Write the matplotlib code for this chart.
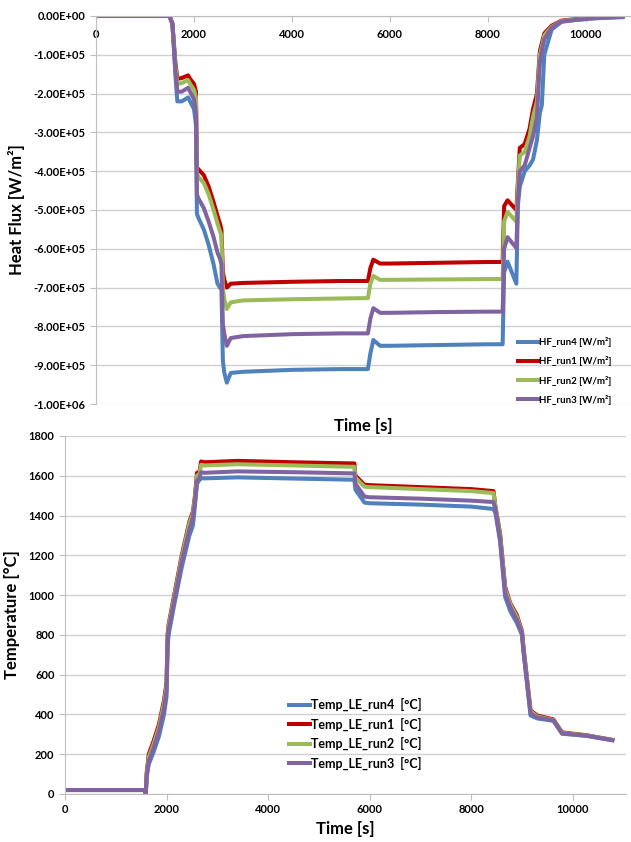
import numpy as np
import matplotlib
matplotlib.use("Agg")
import matplotlib.pyplot as plt
from matplotlib.ticker import FuncFormatter

# =========================
# DATA - heat flux (units of 1e5 W/m2)
# =========================
t_hf = [0, 1500, 1560, 1620, 1660, 1750, 1880, 1920, 2000, 2040, 2060, 2090, 2200, 2300,
        2400, 2480, 2530, 2560, 2590, 2620, 2670, 2750, 3000, 4000, 5000, 5550, 5600, 5660,
        5800, 6000, 7000, 8000, 8300, 8330, 8400, 8580, 8610, 8650, 8750, 8850, 8920, 9000,
        9060, 9100, 9150, 9300, 9500, 9800, 10200, 10750]

hf_run1 = [0, 0, -0.2, -1.2, -1.62, -1.6, -1.53, -1.62, -1.75, -1.95, -3.9, -3.95, -4.1, -4.4,
           -4.8, -5.15, -5.35, -5.5, -6.6, -6.8, -7.0, -6.9, -6.88, -6.85, -6.83, -6.83, -6.5, -6.28,
           -6.38, -6.38, -6.36, -6.34, -6.34, -4.9, -4.75, -5.0, -4.3, -3.4, -3.3, -2.9, -2.4, -2.0,
           -0.9, -0.7, -0.45, -0.25, -0.12, -0.08, -0.04, 0.0]
hf_run2 = [0, 0, -0.2, -1.3, -1.75, -1.73, -1.65, -1.75, -1.9, -2.1, -4.05, -4.15, -4.3, -4.6,
           -5.0, -5.35, -5.55, -5.65, -7.0, -7.3, -7.55, -7.38, -7.33, -7.3, -7.28, -7.27, -6.9, -6.7,
           -6.8, -6.8, -6.79, -6.78, -6.78, -5.3, -5.05, -5.3, -4.4, -3.6, -3.5, -3.1, -2.6, -2.2,
           -1.0, -0.8, -0.5, -0.28, -0.13, -0.09, -0.05, -0.01]
hf_run3 = [0, 0, -0.2, -1.4, -1.95, -1.95, -1.85, -1.95, -2.15, -2.5, -4.6, -4.7, -4.95, -5.3,
           -5.7, -6.1, -6.25, -6.4, -7.95, -8.2, -8.5, -8.3, -8.25, -8.2, -8.18, -8.18, -7.8, -7.53,
           -7.65, -7.65, -7.63, -7.62, -7.62, -6.0, -5.7, -5.98, -4.8, -4.0, -3.85, -3.4, -3.1, -2.6,
           -1.2, -0.9, -0.6, -0.3, -0.14, -0.1, -0.05, -0.02]
hf_run4 = [0, 0, -0.2, -1.5, -2.2, -2.2, -2.1, -2.2, -2.4, -2.8, -5.1, -5.2, -5.5, -5.9,
           -6.4, -6.9, -7.0, -7.05, -8.9, -9.2, -9.45, -9.2, -9.17, -9.12, -9.1, -9.1, -8.7, -8.35,
           -8.5, -8.5, -8.48, -8.46, -8.46, -6.6, -6.33, -6.9, -4.9, -4.4, -4.0, -3.85, -3.7, -3.2,
           -2.5, -2.3, -1.0, -0.35, -0.15, -0.1, -0.06, -0.03]

# =========================
# DATA - leading edge temperature (deg C)
# =========================
t_temp = [0, 1570, 1590, 1610, 1650, 1750, 1850, 1950, 2000, 2020, 2040, 2150, 2300, 2450,
          2520, 2560, 2600, 2650, 2680, 2750, 3400, 4500, 5700, 5720, 5900, 6000, 7000, 8000,
          8440, 8480, 8570, 8670, 8770, 8900, 9000, 9030, 9170, 9300, 9620, 9790, 10280, 10780]

temp_run1 = [20, 20, 0, 110, 200, 270, 350, 470, 560, 800, 850, 1000, 1200, 1370, 1420, 1500,
             1615, 1620, 1672, 1668, 1675, 1668, 1662, 1600, 1555, 1553, 1543, 1533, 1523, 1440,
             1310, 1040, 960, 900, 820, 740, 420, 395, 375, 310, 295, 272]
temp_run2 = [20, 20, 0, 100, 185, 255, 335, 455, 545, 790, 840, 990, 1190, 1360, 1410, 1490,
             1600, 1610, 1655, 1652, 1658, 1652, 1645, 1590, 1545, 1543, 1533, 1523, 1513, 1440,
             1300, 1030, 955, 890, 815, 735, 415, 390, 372, 308, 294, 272]
temp_run3 = [20, 20, 0, 95, 165, 235, 315, 430, 520, 760, 820, 970, 1170, 1330, 1390, 1470,
             1575, 1590, 1618, 1615, 1622, 1618, 1612, 1560, 1495, 1492, 1485, 1475, 1468, 1430,
             1280, 1010, 940, 875, 810, 725, 405, 385, 370, 305, 293, 271]
temp_run4 = [20, 20, 0, 85, 150, 215, 290, 400, 490, 730, 800, 950, 1140, 1300, 1350, 1450,
             1560, 1580, 1588, 1587, 1592, 1586, 1580, 1530, 1465, 1462, 1455, 1445, 1433, 1410,
             1270, 990, 920, 860, 800, 715, 395, 380, 368, 303, 292, 270]

colors = {"run4": "#4F81BD", "run1": "#C00000", "run2": "#9BBB59", "run3": "#8064A2"}

plt.rcParams["font.family"] = ["Lato", "DejaVu Sans"]
plt.rcParams["font.weight"] = "bold"

fig = plt.figure(figsize=(6.31, 8.42), dpi=100)
grey = "#BFBFBF"
lw = 2.9

# =========================
# 1. HEAT FLUX
# =========================
ax1 = fig.add_axes([96 / 631, 1 - 404 / 842, 535 / 631, 388 / 842])
hf_series = [("run4", hf_run4), ("run1", hf_run1), ("run2", hf_run2), ("run3", hf_run3)]
for name, vals in hf_series:
    ax1.plot(t_hf, np.array(vals) * 1e5, color=colors[name], lw=lw,
             label="HF_%s [W/m²]" % name, solid_joinstyle="round")

ax1.set_xlim(0, 10920)
ax1.set_ylim(-1e6, 0)
ax1.set_xticks([0, 2000, 4000, 6000, 8000, 10000])
ax1.set_yticks(np.arange(-1e6, 1, 1e5))
ax1.yaxis.set_major_formatter(FuncFormatter(lambda v, p: "%.2E" % v))
ax1.spines["bottom"].set_position(("data", 0))
ax1.spines["bottom"].set_color(grey)
ax1.spines["left"].set_color(grey)
ax1.spines["top"].set_visible(False)
ax1.spines["right"].set_visible(False)
ax1.grid(axis="y", color="#D0D0D0", lw=1)
ax1.set_axisbelow(True)
ax1.tick_params(axis="both", labelsize=8, color=grey, length=4)
ax1.tick_params(axis="x", pad=5)
ax1.set_ylabel("Heat Flux [W/m²]", fontsize=12, fontweight="bold", labelpad=6)
ax1.set_xlabel("Time [s]", fontsize=12, fontweight="bold")
ax1.xaxis.set_label_coords(0.5, -0.035)
ax1.legend(loc="upper left", bbox_to_anchor=(0.78, 0.185), frameon=False,
           prop={"size": 7, "weight": "bold"}, handlelength=2.0, handletextpad=0.1,
           labelspacing=0.95, borderpad=0)

# =========================
# 2. TEMPERATURE
# =========================
ax2 = fig.add_axes([65 / 631, 1 - 794 / 842, 561 / 631, 358 / 842])
temp_series = [("run4", temp_run4), ("run1", temp_run1), ("run2", temp_run2), ("run3", temp_run3)]
for name, vals in temp_series:
    ax2.plot(t_temp, vals, color=colors[name], lw=lw,
             label="Temp_LE_%s  [°C]" % name, solid_joinstyle="round")

ax2.set_xlim(0, 11050)
ax2.set_ylim(0, 1800)
ax2.set_xticks([0, 2000, 4000, 6000, 8000, 10000])
ax2.set_yticks(np.arange(0, 1801, 200))
ax2.spines["bottom"].set_color(grey)
ax2.spines["left"].set_color(grey)
ax2.spines["top"].set_visible(False)
ax2.spines["right"].set_visible(False)
ax2.grid(axis="y", color="#D0D0D0", lw=1)
ax2.set_axisbelow(True)
ax2.tick_params(axis="both", labelsize=8, color=grey, length=4)
ax2.set_ylabel("Temperature [°C]", fontsize=12, fontweight="bold", labelpad=6)
ax2.set_xlabel("Time [s]", fontsize=12, fontweight="bold", labelpad=4)
ax2.legend(loc="upper left", bbox_to_anchor=(0.388, 0.285), frameon=False,
           prop={"size": 9, "weight": "bold"}, handlelength=1.7, handletextpad=0.1,
           labelspacing=0.5, borderpad=0)

fig.savefig("out.png", dpi=100)
